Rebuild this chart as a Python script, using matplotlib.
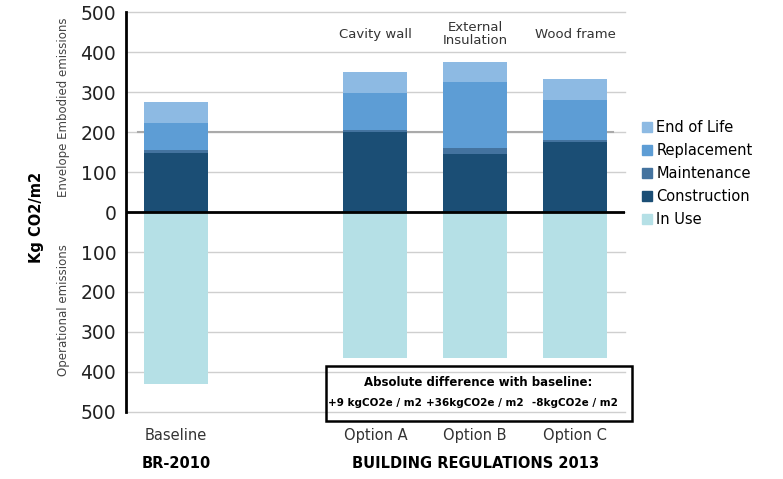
import matplotlib.pyplot as plt
import numpy as np

categories = ["Baseline", "Option A", "Option B", "Option C"]
groups = ["BR-2010", "BUILDING REGULATIONS 2013"]
options_desc = ["", "Cavity wall", "External\nInsulation", "Wood frame"]

construction = [148, 200, 146, 174]
maintenance = [6, 6, 13, 5]
replacement = [69, 92, 167, 102]
end_of_life = [51, 52, 49, 51]
in_use = [430, 365, 365, 365]

diff_labels = ["+9 kgCO2e / m2", "+36kgCO2e / m2", "-8kgCO2e / m2"]

colors = {
    "End of Life": "#8dbae3",
    "Replacement": "#5d9dd5",
    "Maintenance": "#44739f",
    "Construction": "#1b4e75",
    "In Use": "#b5e0e6",
}

plt.rcParams['font.family'] = ['DejaVu Sans']

fig = plt.figure(figsize=(7.83, 4.79), dpi=100)
ax = fig.add_axes([0.1609, 0.1399, 0.798 - 0.1609, 0.835])

x = np.array([0, 2, 3, 4])
w = 0.64

# grid
for v in range(-500, 501, 100):
    ax.axhline(v, color="#cfcfcf", lw=1, zorder=0, clip_on=False)
ax.plot([-0.38, 4.38], [200, 200], color="#aaaaaa", lw=1.5, zorder=0.5)

bottom = np.zeros(len(categories))
for name, vals in [("Construction", construction), ("Maintenance", maintenance),
                   ("Replacement", replacement), ("End of Life", end_of_life)]:
    ax.bar(x, vals, w, bottom=bottom, color=colors[name], zorder=2)
    bottom += np.array(vals)
ax.bar(x, -np.array(in_use), w, color=colors["In Use"], zorder=2)

ax.axhline(0, color="black", lw=2, zorder=3)

ax.set_xlim(-0.5, 4.5)
ax.set_ylim(-500, 500)
ax.set_yticks(range(-500, 501, 100))
ax.set_yticklabels([str(abs(v)) for v in range(-500, 501, 100)], fontsize=13.5,
                   color="#222222")
ax.tick_params(axis="y", length=0, pad=7)
ax.set_xticks([])
for s in ["top", "right", "bottom"]:
    ax.spines[s].set_visible(False)
ax.spines["left"].set_linewidth(2)
ax.spines["left"].set_zorder(4)

# labels under bars
for xi, c in zip(x, categories):
    ax.text(xi, -560, c, ha="center", va="center", fontsize=10.5, color="#333333")
ax.text(x[0], -628, groups[0], ha="center", va="center", fontsize=10.5,
        fontweight="bold")
ax.text(x[2], -628, groups[1], ha="center", va="center", fontsize=10.5,
        fontweight="bold")

# option descriptions
for xi, d in zip(x, options_desc):
    if d:
        ax.text(xi, 445, d, ha="center", va="center", fontsize=9.5,
                color="#333333", linespacing=1.0)

# side labels
fig.text(36 / 783, 1 - 217 / 479, "Kg CO2/m2", rotation=90, ha="center",
         va="center", fontsize=10.5, fontweight="bold")
fig.text(63 / 783, 1 - 107 / 479, "Envelope Embodied emissions", rotation=90,
         ha="center", va="center", fontsize=8.5, color="#444444")
fig.text(63 / 783, 1 - 310 / 479, "Operational emissions", rotation=90,
         ha="center", va="center", fontsize=8.5, color="#444444")

# difference box
box = plt.Rectangle((326 / 783, 1 - 421 / 479), (632 - 326) / 783,
                    (421 - 366) / 479, transform=fig.transFigure,
                    fill=False, ec="black", lw=1.8)
fig.add_artist(box)
fig.text(478 / 783, 1 - 383 / 479, "Absolute difference with baseline:",
         ha="center", va="center", fontsize=8.5, fontweight="bold")
for xi, t in zip(x[1:], diff_labels):
    xd = ax.transData.transform((xi, 0))[0] / fig.bbox.width
    fig.text(xd, 1 - 403 / 479, t, ha="center", va="center", fontsize=7.5,
             fontweight="bold")

# legend
handles = [plt.Rectangle((0, 0), 1, 1, color=colors[k]) for k in colors]
fig.legend(handles, list(colors.keys()), loc="upper left",
           bbox_to_anchor=(636 / 783, 1 - 114 / 479), frameon=False,
           fontsize=10.5, handlelength=0.7, handleheight=0.7,
           handletextpad=0.3, labelspacing=0.55, borderaxespad=0)

fig.savefig("out.png", dpi=100)
